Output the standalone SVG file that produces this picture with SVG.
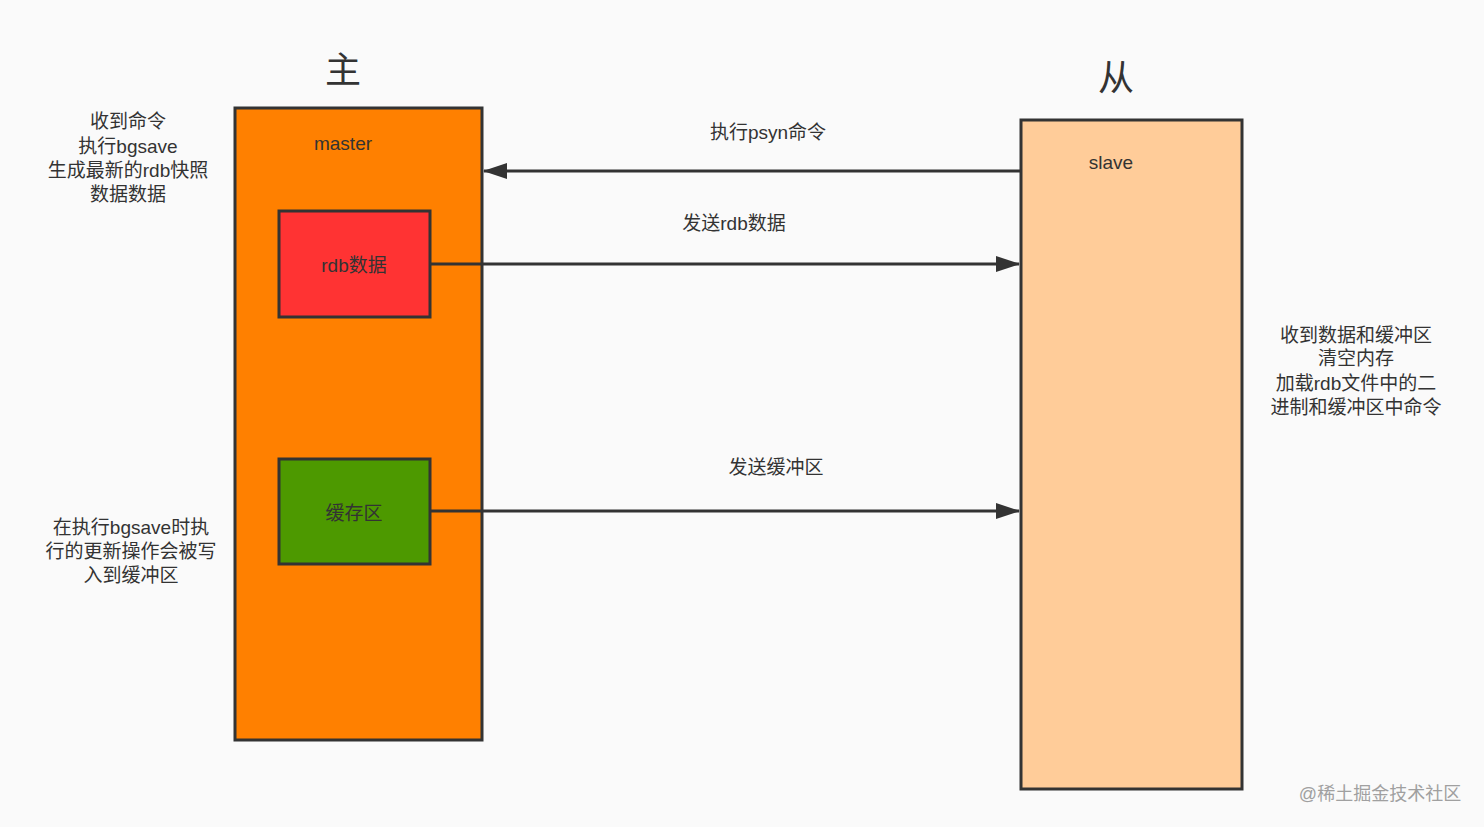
<svg xmlns="http://www.w3.org/2000/svg" width="1484" height="827" viewBox="0 0 1484 827">
<defs>
<style>
text{font-family:"Liberation Sans","Noto Sans CJK SC",sans-serif;fill:#333;text-anchor:middle}
.t{font-size:19px}
.h{font-size:36px;font-family:"Noto Sans CJK SC",sans-serif}
.box{stroke:#333;stroke-width:3}
.ln{stroke:#333;stroke-width:3;fill:none}
</style>
<marker id="ah2" markerWidth="24" markerHeight="16" refX="23" refY="8" orient="auto" markerUnits="userSpaceOnUse" viewBox="0 0 24 16">
<path d="M0,0 L24,8 L0,16 Z" fill="#333"/>
</marker>
</defs>
<rect width="1484" height="827" fill="#fafafa"/>
<g id="title-master"><text class="h" x="343" y="83">主</text></g>
<g id="title-slave"><text class="h" x="1116" y="91">从</text></g>
<g id="master">
<rect class="box" x="235" y="108" width="247" height="632" fill="#ff8000"/>
<text class="t" x="343" y="150">master</text>
</g>
<g id="rdb">
<rect class="box" x="279" y="211" width="151" height="106" fill="#ff3333"/>
<text class="t" x="354" y="272">rdb数据</text>
</g>
<g id="buffer">
<rect class="box" x="279" y="459" width="151" height="105" fill="#4d9900"/>
<text class="t" x="354" y="520">缓存区</text>
</g>
<g id="slave">
<rect class="box" x="1021" y="120" width="221" height="669" fill="#ffcc99"/>
<text class="t" x="1111" y="169">slave</text>
</g>
<g id="connectors">
<path class="ln" d="M1021,171 L484,171" marker-end="url(#ah2)"/>
<path class="ln" d="M430,264 L1019,264" marker-end="url(#ah2)"/>
<path class="ln" d="M430,511 L1019,511" marker-end="url(#ah2)"/>
<text class="t" x="768" y="139">执行psyn命令</text>
<text class="t" x="734" y="230">发送rdb数据</text>
<text class="t" x="776" y="474">发送缓冲区</text>
</g>
<g id="note-left-top">
<text class="t" x="128" y="128">收到命令</text>
<text class="t" x="128" y="153">执行bgsave</text>
<text class="t" x="128" y="177">生成最新的rdb快照</text>
<text class="t" x="128" y="201">数据数据</text>
</g>
<g id="note-left-bottom">
<text class="t" x="131" y="534">在执行bgsave时执</text>
<text class="t" x="131" y="558">行的更新操作会被写</text>
<text class="t" x="131" y="582">入到缓冲区</text>
</g>
<g id="note-right">
<text class="t" x="1356" y="342">收到数据和缓冲区</text>
<text class="t" x="1356" y="365">清空内存</text>
<text class="t" x="1356" y="390">加载rdb文件中的二</text>
<text class="t" x="1356" y="414">进制和缓冲区中命令</text>
</g>
<g id="watermark"><text x="1380" y="800" style="font-size:18px;fill:#a0a0a0">@稀土掘金技术社区</text></g>
</svg>
